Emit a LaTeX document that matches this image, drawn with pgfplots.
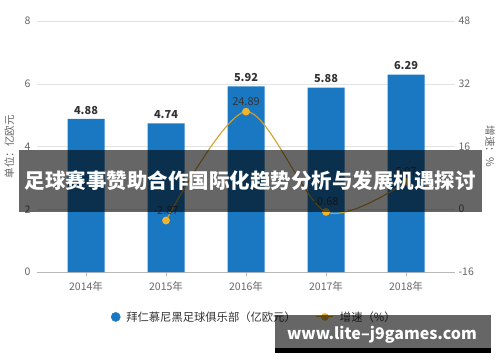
\documentclass[border=0pt]{standalone}
\usepackage{fontspec}
\setmainfont{Noto Sans CJK SC}
\usepackage{pgfplots}
\pgfplotsset{compat=1.18}
\definecolor{barblue}{HTML}{1A78C2}
\definecolor{goldline}{HTML}{D4A02A}
\definecolor{goldmark}{HTML}{F0B42E}
\definecolor{ticktext}{HTML}{666666}
\definecolor{labeltext}{HTML}{333333}
\begin{document}
\begin{tikzpicture}
\useasboundingbox (0,0) rectangle (500pt,362pt);
\begin{axis}[
  at={(37pt,90pt)}, anchor=south west,
  scale only axis, width=418pt, height=251pt,
  xmin=-0.6125, xmax=4.6125,
  ymin=0, ymax=8, ytick={0,2,4,6,8},
  xtick={0,1,2,3,4},
  xticklabels={2014年,2015年,2016年,2017年,2018年},
  axis lines*=left,
  x axis line style={draw=gray!55},
  y axis line style={draw=none},
  ytick style={draw=none},
  xtick style={draw=gray!55},
  tick align=outside, major tick length=4pt,
  ymajorgrids, grid style={gray!22},
  /pgf/number format/assume math mode=true,
  tick label style={font=\fontsize{10.5}{12}\selectfont, text=ticktext},
  yticklabel style={xshift=1pt},
  xticklabel style={yshift=-2pt},
  ylabel={单位：亿欧元},
  ylabel style={at={(axis description cs:-0.066,0.5)}, anchor=center, font=\fontsize{10.5}{12}\selectfont, text=ticktext},
  clip=false,
]
\addplot[ybar, bar width=37pt, fill=barblue, draw=none,
  nodes near coords,
  nodes near coords style={font=\bfseries\fontsize{11}{12}\selectfont, text=labeltext,
    /pgf/number format/fixed, /pgf/number format/precision=2, /pgf/number format/fixed zerofill, yshift=1pt}]
  coordinates {(0,4.88) (1,4.74) (2,5.92) (3,5.88) (4,6.29)};
\end{axis}
\begin{axis}[
  at={(37pt,90pt)}, anchor=south west,
  scale only axis, width=418pt, height=251pt,
  xmin=-0.6125, xmax=4.6125,
  ymin=-16, ymax=48, ytick={-16,0,16,32,48},
  axis x line=none,
  axis y line*=right,
  y axis line style={draw=none},
  ytick style={draw=none},
  /pgf/number format/assume math mode=true,
  tick label style={font=\fontsize{10.5}{12}\selectfont, text=ticktext},
  ylabel={增速：\%},
  ylabel style={at={(axis description cs:1.084,0.5)}, anchor=center, rotate=180, font=\fontsize{10.5}{12}\selectfont, text=ticktext},
  legend columns=2,
  legend style={at={(axis description cs:0.52,-0.179)}, anchor=center, draw=none, fill=none,
    font=\fontsize{11.3}{13}\selectfont, text=labeltext,
    /tikz/every odd column/.append style={column sep=4pt},
    /tikz/every even column/.append style={column sep=18pt}},
  clip=false,
]
\addlegendimage{only marks, mark=*, mark size=4.6pt, mark options={fill=barblue, draw=barblue}}
\addlegendentry{拜仁慕尼黑足球俱乐部（亿欧元）}
\addplot[smooth, color=goldline, line width=1.1pt, mark=*, mark size=3.3pt,
  mark options={fill=goldmark, draw=goldmark},
  nodes near coords,
  nodes near coords style={anchor=south, font=\fontsize{11}{12}\selectfont, text=labeltext,
    /pgf/number format/fixed, /pgf/number format/precision=2, /pgf/number format/fixed zerofill, yshift=2pt}]
  coordinates {(1,-2.87) (2,24.89) (3,-0.68) (4,6.97)};
\addlegendentry{增速（\%）}
\end{axis}
% title banner
\fill[black, opacity=0.6] (19pt,150pt) rectangle (482pt,212pt);
\node[text=white, font=\bfseries\fontsize{20.5}{24}\selectfont] at (250pt,181pt) {足球赛事赞助合作国际化趋势分析与发展机遇探讨};
% bottom banner
\fill[black, opacity=0.6] (275pt,14pt) rectangle (491pt,47pt);
\fill[black] (275pt,9pt) rectangle (491pt,14pt);
\node[text=white, font=\bfseries\fontsize{16}{18}\selectfont] at (382pt,27pt) {www.lite--j9games.com};
\end{tikzpicture}
\end{document}
